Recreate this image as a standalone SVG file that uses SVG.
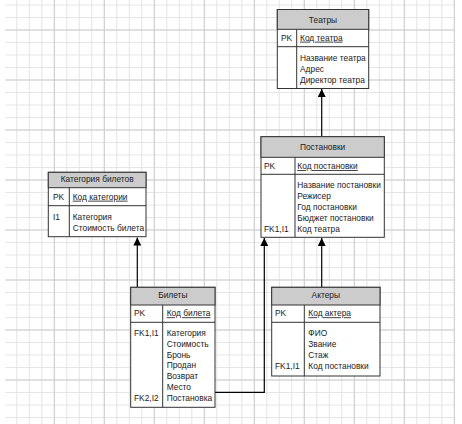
<svg xmlns="http://www.w3.org/2000/svg" width="462" height="424" viewBox="0 0 462 424">
<defs>
<pattern id="minor" x="3.8" y="4.5" width="12.5" height="12.5" patternUnits="userSpaceOnUse"><path d="M0 0.5H12.5M0.5 0V12.5" stroke="#e4e4e4" stroke-width="1" fill="none"/></pattern>
<pattern id="major" x="3.8" y="29.5" width="50" height="50" patternUnits="userSpaceOnUse"><path d="M0 0.5H50M0.5 0V50" stroke="#cdcdcd" stroke-width="1" fill="none"/></pattern>
<marker id="arr" viewBox="0 0 10 10" refX="10" refY="5" markerWidth="8" markerHeight="8" markerUnits="userSpaceOnUse" orient="auto"><path d="M0 0L10 5L0 10Z" fill="#000"/></marker>
</defs>
<style>
text{font-family:"Liberation Sans",Arial,sans-serif;font-size:8.4px;fill:#222}
.h{text-anchor:middle}
.u{text-decoration:underline}
.box{fill:#fff;stroke:#333;stroke-width:1}
.hd{fill:#cccccc;stroke:#333;stroke-width:1}
.ln{stroke:#333;stroke-width:1;fill:none}
.c{stroke:#000;stroke-width:1.2;fill:none}
</style>
<rect x="0" y="0" width="462" height="424" fill="#fff"/>
<rect x="5.5" y="0" width="449.5" height="424" fill="url(#minor)"/>
<rect x="5.5" y="0" width="449.5" height="424" fill="url(#major)"/>

<g id="connectors">
<path class="c" d="M321.7 136.7V89" marker-end="url(#arr)"/>
<path class="c" d="M321.7 287.3V238" marker-end="url(#arr)"/>
<path class="c" d="M137.3 287.3V237.5" marker-end="url(#arr)"/>
<path class="c" d="M215 392.3H264.3V238" marker-end="url(#arr)"/>
</g>

<g id="teatry">
<rect class="box" x="277.3" y="9.5" width="91.4" height="79"/>
<rect class="hd" x="277.3" y="9.5" width="91.4" height="19.8"/>
<path class="ln" d="M277.3 46.7H368.7M296.7 29.3V88.5"/>
<text class="h" x="323" y="23">Театры</text>
<text x="281" y="40.7">PK</text>
<text class="u" x="300" y="40.7">Код театра</text>
<text x="300" y="61.3">Название театра</text>
<text x="300" y="71.9">Адрес</text>
<text x="300" y="82.5">Директор театра</text>
</g>

<g id="postanovki">
<rect class="box" x="261" y="136.7" width="123.3" height="100.6"/>
<rect class="hd" x="261" y="136.7" width="123.3" height="20.6"/>
<path class="ln" d="M261 174.3H384.3M295 157.3V237.3"/>
<text class="h" x="322.6" y="149.7">Постановки</text>
<text x="264" y="169">PK</text>
<text class="u" x="297.3" y="169">Код постановки</text>
<text x="297.3" y="187.5">Название постановки</text>
<text x="297.3" y="198.6">Режисер</text>
<text x="297.3" y="209.7">Год постановки</text>
<text x="297.3" y="220.8">Бюджет постановки</text>
<text x="264" y="231.9">FK1,I1</text>
<text x="297.3" y="231.9">Код театра</text>
</g>

<g id="kategoria">
<rect class="box" x="48.3" y="172.3" width="97.7" height="64.4"/>
<rect class="hd" x="48.3" y="172.3" width="97.7" height="15.4"/>
<path class="ln" d="M48.3 205.7H146M69.3 187.7V236.7"/>
<text class="h" x="97.2" y="182">Категория билетов</text>
<text x="53" y="199.7">PK</text>
<text class="u" x="72.7" y="199.7">Код категории</text>
<text x="53" y="220.3">I1</text>
<text x="72.7" y="220.3">Категория</text>
<text x="72.7" y="230.9">Стоимость билета</text>
</g>

<g id="bilety">
<rect class="box" x="130.7" y="287.3" width="84.3" height="120"/>
<rect class="hd" x="130.7" y="287.3" width="84.3" height="17.7"/>
<path class="ln" d="M130.7 322.3H215M162.7 305V407.3"/>
<text class="h" x="172.8" y="298">Билеты</text>
<text x="134" y="316.3">PK</text>
<text class="u" x="166.7" y="316.3">Код билета</text>
<text x="134" y="336.3">FK1,I1</text>
<text x="166.7" y="336.3">Категория</text>
<text x="166.7" y="347">Стоимость</text>
<text x="166.7" y="357.7">Бронь</text>
<text x="166.7" y="368.4">Продан</text>
<text x="166.7" y="379.1">Возврат</text>
<text x="166.7" y="389.8">Место</text>
<text x="134" y="400.5">FK2,I2</text>
<text x="166.7" y="400.5">Постановка</text>
</g>

<g id="aktery">
<rect class="box" x="271.7" y="287.3" width="108.3" height="88.7"/>
<rect class="hd" x="271.7" y="287.3" width="108.3" height="17.7"/>
<path class="ln" d="M271.7 322.3H380M304.3 305V376"/>
<text class="h" x="325.8" y="298">Актеры</text>
<text x="275" y="316.3">PK</text>
<text class="u" x="308.3" y="316.3">Код актера</text>
<text x="308.3" y="336.3">ФИО</text>
<text x="308.3" y="347.3">Звание</text>
<text x="308.3" y="358.3">Стаж</text>
<text x="275" y="369.3">FK1,I1</text>
<text x="308.3" y="369.3">Код постановки</text>
</g>
</svg>
